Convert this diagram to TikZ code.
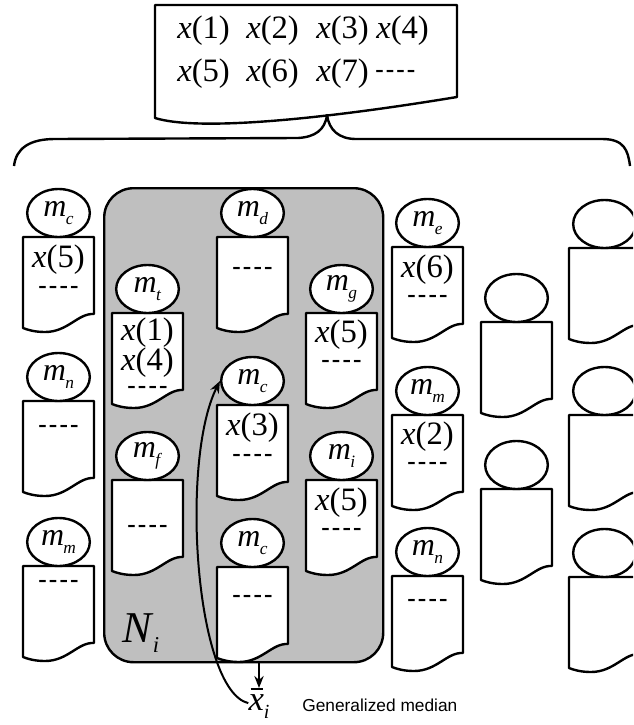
\documentclass[tikz,border=0pt]{standalone}
\usepackage{fontspec}
\setmainfont{Liberation Serif}
\newfontfamily\gmsans{Liberation Sans}
\usetikzlibrary{shapes.geometric,arrows.meta}
\newcommand\xsz[1]{{\fontsize{24.5}{24.5}\selectfont\textit{x}(#1)}}
\newcommand\dsh{{\fontsize{19}{19}\selectfont\bfseries -\kern1.6pt-\kern1.6pt-\kern1.6pt-}}
\newcommand\msb[1]{{\fontsize{24}{24}\selectfont\textit{m}\kern-0.5pt\raisebox{-6pt}{\fontsize{13}{13}\selectfont\textit{#1}}}}
\newcommand\docshape[3]{%
  \begin{scope}[shift={(#2,#3)}]
    \draw[docline, fill=white] (0,0) -- (71,0) -- (71,77) .. controls (55,76) and (45,95) .. (22,95) .. controls (12,95) and (5,93) .. (0,91) -- cycle;
    \coordinate (#1) at (35.5,0);
  \end{scope}}
\begin{document}
\begin{tikzpicture}[x=0.75pt,y=-0.75pt,
  docline/.style={line width=1.8pt, line join=round},
  mnode/.style={draw, ellipse, line width=1.8pt, fill=white, minimum width=47pt, minimum height=36pt, inner sep=0pt},
  txt/.style={inner sep=0pt},
  arr/.style={line width=1.5pt, -{Stealth[length=9pt,width=7pt]}}]
\useasboundingbox (0,0) rectangle (633,725);
% gray neighbourhood
\node[draw, line width=1.8pt, fill=black!25, rounded corners=22pt, minimum width=209.25pt, minimum height=355.5pt, anchor=north west, inner sep=0pt] (Nbox) at (103,187) {};
% top document
\draw[docline, fill=white] (155,5) -- (457,5) -- (457,97) .. controls (330,118) and (200,132) .. (155,118) -- cycle;
\coordinate (topdoc) at (306,5);
\node[txt, anchor=west] (t1) at (177,31) {\xsz{1}};
\node[txt, anchor=west] (t2) at (246,31) {\xsz{2}};
\node[txt, anchor=west] (t3) at (316,31) {\xsz{3}};
\node[txt, anchor=west] (t4) at (376,31) {\xsz{4}};
\node[txt, anchor=west] (t5) at (177,74) {\xsz{5}};
\node[txt, anchor=west] (t6) at (246,74) {\xsz{6}};
\node[txt, anchor=west] (t7) at (316,74) {\xsz{7}};
\node[txt, anchor=west] (t8) at (375,74) {\dsh};
% brace
\draw[docline] (14,166) .. controls (16,148) and (30,139) .. (55,139) -- (298,138) .. controls (315,137) and (325,130) .. (327,115) .. controls (329,130) and (339,139) .. (356,139) -- (602,139) .. controls (624,139) and (628,150) .. (630,166);
% column A
\docshape{dA1}{23}{237}\docshape{dA2}{23}{401}\docshape{dA3}{23}{566}
\node[mnode] (cA1) at (58.5,213) {\msb{c}};
\node[mnode] (cA2) at (58.5,377) {\msb{n}};
\node[mnode] (cA3) at (58.5,542) {\msb{m}};
\node[txt] (xA1) at (58.5,260) {\xsz{5}};
\node[txt] (sA1) at (58.5,290) {\dsh};
\node[txt] (sA2) at (58.5,429) {\dsh};
\node[txt] (sA3) at (58.5,584) {\dsh};
% column B
\docshape{dB1}{112}{313}\docshape{dB2}{112}{480}
\node[mnode] (cB1) at (147.5,289) {\msb{t}};
\node[mnode] (cB2) at (147.5,456) {\msb{f}};
\node[txt] (xB1) at (147.5,333) {\xsz{1}};
\node[txt] (xB2) at (147.5,363) {\xsz{4}};
\node[txt] (sB1) at (147.5,390) {\dsh};
\node[txt] (sB2) at (147.5,529) {\dsh};
% column C
\docshape{dC1}{217}{237}\docshape{dC2}{217}{405}\docshape{dC3}{217}{567}
\node[mnode] (cC1) at (252.5,213) {\msb{d}};
\node[mnode] (cC2) at (252.5,381) {\msb{c}};
\node[mnode] (cC3) at (252.5,543) {\msb{c}};
\node[txt] (sC1) at (252.5,271) {\dsh};
\node[txt] (xC2) at (252.5,428) {\xsz{3}};
\node[txt] (sC2) at (252.5,458) {\dsh};
\node[txt] (sC3) at (252.5,599) {\dsh};
% column D
\docshape{dD1}{306}{313}\docshape{dD2}{306}{480}
\node[mnode] (cD1) at (341.5,289) {\msb{g}};
\node[mnode] (cD2) at (341.5,456) {\msb{i}};
\node[txt] (xD1) at (341.5,335) {\xsz{5}};
\node[txt] (sD1) at (341.5,364) {\dsh};
\node[txt] (xD2) at (341.5,503) {\xsz{5}};
\node[txt] (sD2) at (341.5,532) {\dsh};
% column E
\docshape{dE1}{392}{247}\docshape{dE2}{392}{415}\docshape{dE3}{392}{576}
\node[mnode] (cE1) at (427.5,223) {\msb{e}};
\node[mnode] (cE2) at (427.5,391) {\msb{m}};
\node[mnode] (cE3) at (427.5,552) {\msb{n}};
\node[txt] (xE1) at (427.5,270) {\xsz{6}};
\node[txt] (sE1) at (427.5,299) {\dsh};
\node[txt] (xE2) at (427.5,437) {\xsz{2}};
\node[txt] (sE2) at (427.5,466) {\dsh};
\node[txt] (sE3) at (427.5,603) {\dsh};
% column F
\docshape{dF1}{481}{322}\docshape{dF2}{481}{489}
\node[mnode] (cF1) at (516.5,298) {};
\node[mnode] (cF2) at (516.5,465) {};
% column G (cut by the right edge)
\begin{scope}
\clip (0,0) rectangle (633,725);
\docshape{dG1}{569}{248}\docshape{dG2}{569}{415}\docshape{dG3}{569}{577}
\node[mnode] (cG1) at (604.5,224) {};
\node[mnode] (cG2) at (604.5,391) {};
\node[mnode] (cG3) at (604.5,553) {};
\end{scope}
% labels
\node[txt] (Ni) at (141,633) {\fontsize{33}{33}\selectfont\textit{N}\kern-1pt\raisebox{-7pt}{\fontsize{17}{17}\selectfont\textit{i}}};
\node[txt, anchor=north] (xbar) at (259,688) {\fontsize{26}{26}\selectfont\rlap{\kern1.5pt\raisebox{15pt}{\rule{9pt}{1.3pt}}}\textit{x}\raisebox{-6pt}{\fontsize{15}{15}\selectfont\textit{i}}};
\node[txt, anchor=west] (gm) at (302,705) {\gmsans\fontsize{13}{13}\selectfont Generalized median};
% connectors
\draw[arr] (Nbox.south -| xbar.north) -- (xbar.north);
\draw[arr] (xbar.west) .. controls (195,690) and (180,460) .. (cC2.west);
\end{tikzpicture}
\end{document}
